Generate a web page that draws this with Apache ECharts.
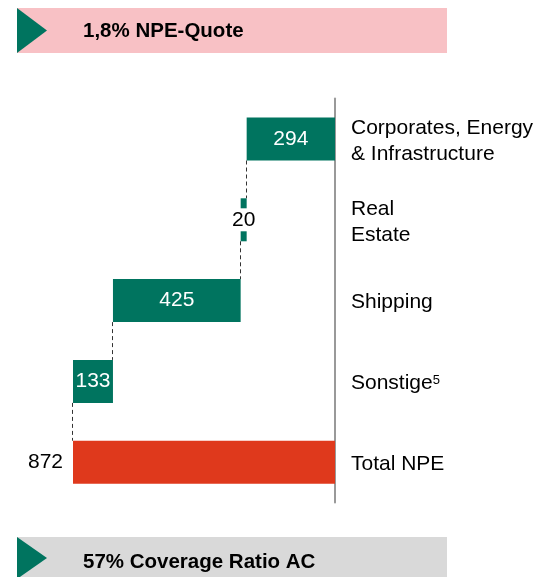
<!DOCTYPE html>
<html>
<head>
<meta charset="utf-8">
<script src="https://cdn.jsdelivr.net/npm/echarts@6/dist/echarts.min.js"></script>
<style>
  html, body { margin: 0; padding: 0; background: #fff; }
  #root { width: 537px; height: 577px; }
</style>
</head>
<body>
<div id="root"></div>
<script>
(function () {
  // categories top to bottom; the last one is the total
  const categories = ['Corporates, Energy\n& Infrastructure', 'Real\nEstate', 'Shipping', 'Sonstige', 'Total NPE'];
  const footnotes = ['', '', '', '5', ''];
  const parts = [294, 20, 425, 133];
  const total = 872;
  const headerTop = '1,8% NPE-Quote';
  const headerBottom = '57% Coverage Ratio AC';

  const green = '#00745f';
  const red = '#df391c';
  const font = "'Liberation Sans', Arial, sans-serif";

  // running offsets for the invisible base of the waterfall
  const bases = [];
  let acc = 0;
  parts.forEach(v => { bases.push(acc); acc += v; });
  const ends = parts.map((v, i) => bases[i] + v);

  const baseData = bases.concat([0]);
  const visData = parts.map((v, i) => ({
    value: v,
    itemStyle: { color: green },
    label: v < 50 ? {
      color: '#000', backgroundColor: '#fff', padding: [1, 1]
    } : undefined
  }));
  visData.push({
    value: total,
    itemStyle: { color: red },
    label: { position: 'left', distance: 10, color: '#000' }
  });

  const chart = echarts.init(document.getElementById('root'), null, { renderer: 'canvas' });

  const option = {
    animation: false,
    textStyle: { fontFamily: font },
    grid: { left: 73, right: 202, top: 98.6, bottom: 74.4, containLabel: false },
    xAxis: {
      type: 'value', inverse: true, min: 0, max: total,
      show: false
    },
    yAxis: {
      type: 'category', inverse: true, position: 'right',
      data: categories,
      axisLine: { show: true, lineStyle: { color: '#999', width: 2 } },
      axisTick: { show: false },
      axisLabel: {
        margin: 16, align: 'left', color: '#000', fontSize: 21, lineHeight: 26,
        fontFamily: font, padding: [4, 0, 0, 0],
        formatter: (val, idx) => footnotes[idx] ? val + '{sup|' + footnotes[idx] + '}' : val,
        rich: {
          sup: { fontSize: 13, fontFamily: font, color: '#000', padding: [0, 0, 6, 0] }
        }
      }
    },
    series: [
      {
        type: 'bar', stack: 'w', barWidth: 43, silent: true,
        itemStyle: { color: 'transparent' },
        data: baseData
      },
      {
        type: 'bar', stack: 'w', barWidth: 43,
        label: { show: true, position: 'inside', color: '#fff', fontSize: 21, fontFamily: font },
        data: visData
      },
      {
        type: 'custom', silent: true, z: 1,
        data: ends.map((e, i) => [e, i]),
        renderItem: function (params, api) {
          const p = api.coord([api.value(0), api.value(1)]);
          const band = api.size([0, 1])[1];
          const x = Math.round(p[0]) - 0.5;
          return {
            type: 'line',
            shape: { x1: x, y1: p[1] + 21.5, x2: x, y2: p[1] + band - 21.5 },
            style: { stroke: '#333', lineWidth: 1, lineDash: [4, 3] }
          };
        }
      }
    ],
    graphic: [
      { type: 'rect', shape: { x: 17, y: 8, width: 430, height: 45 }, style: { fill: '#f8c1c5' } },
      { type: 'polygon', shape: { points: [[17, 8], [47, 30.5], [17, 53]] }, style: { fill: green } },
      { type: 'text', x: 83, y: 31.5, style: { text: headerTop, font: 'bold 20.5px ' + font, fill: '#000', verticalAlign: 'middle' } },
      { type: 'rect', shape: { x: 17, y: 537, width: 430, height: 45 }, style: { fill: '#d9d9d9' } },
      { type: 'polygon', shape: { points: [[17, 537], [47, 558], [17, 579]] }, style: { fill: green } },
      { type: 'text', x: 83, y: 562, style: { text: headerBottom, font: 'bold 20.5px ' + font, fill: '#000', verticalAlign: 'middle' } }
    ]
  };

  chart.setOption(option);
})();
</script>
</body>
</html>
